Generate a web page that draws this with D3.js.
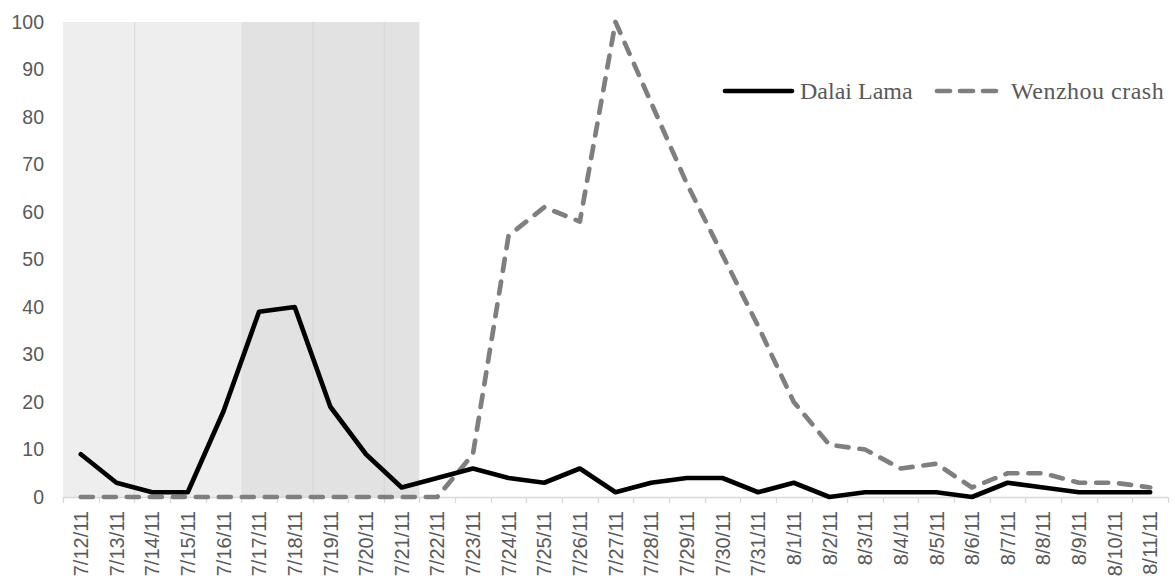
<!DOCTYPE html>
<html>
<head>
<meta charset="utf-8">
<script src="https://cdn.jsdelivr.net/npm/d3@7"></script>
<style>
  html, body { margin: 0; padding: 0; background: #fff; }
  svg { display: block; }
</style>
</head>
<body>
<svg id="chart" width="1175" height="585"></svg>
<script>
const categories = ["7/12/11","7/13/11","7/14/11","7/15/11","7/16/11","7/17/11","7/18/11","7/19/11","7/20/11","7/21/11","7/22/11","7/23/11","7/24/11","7/25/11","7/26/11","7/27/11","7/28/11","7/29/11","7/30/11","7/31/11","8/1/11","8/2/11","8/3/11","8/4/11","8/5/11","8/6/11","8/7/11","8/8/11","8/9/11","8/10/11","8/11/11"];
const dalaiLama = [9,3,1,1,18,39,40,19,9,2,4,6,4,3,6,1,3,4,4,1,3,0,1,1,1,0,3,2,1,1,1];
const wenzhouCrash = [0,0,0,0,0,0,0,0,0,0,0,9,55,61,58,100,83,66,51,36,20,11,10,6,7,2,5,5,3,3,2];
const yTicks = [0,10,20,30,40,50,60,70,80,90,100];
const seriesNames = ["Dalai Lama","Wenzhou crash"];
// shaded periods (category ranges)
const lightPeriod = ["7/12/11","7/16/11"];
const darkPeriod = ["7/17/11","7/21/11"];
const dividerCats = ["7/14/11","7/19/11","7/21/11"];

(function () {
const svg = d3.select("#chart");
const mLeft = 63, mRight = 1168, mTop = 22, mBottom = 497;

const x = d3.scaleBand().domain(categories).range([mLeft, mRight]).paddingInner(0).paddingOuter(0);
const y = d3.scaleLinear().domain([0, 100]).range([mBottom, mTop]);
const cx = d => x(d) + x.bandwidth() / 2;

// shaded regions
svg.append("rect")
  .attr("x", x(lightPeriod[0])).attr("y", y(100))
  .attr("width", x(lightPeriod[1]) + x.bandwidth() - x(lightPeriod[0]))
  .attr("height", y(0) - y(100))
  .attr("fill", "#eeeeee");
svg.append("rect")
  .attr("x", x(darkPeriod[0])).attr("y", y(100))
  .attr("width", x(darkPeriod[1]) + x.bandwidth() - x(darkPeriod[0]))
  .attr("height", y(0) - y(100))
  .attr("fill", "#e2e2e2");
svg.selectAll("line.divider").data(dividerCats).enter().append("line")
  .attr("class", "divider")
  .attr("x1", d => x(d) + 0.5).attr("x2", d => x(d) + 0.5)
  .attr("y1", y(100)).attr("y2", y(0))
  .attr("stroke", "#d6d6d6").attr("stroke-width", 1);

// x axis line and boundary ticks
svg.append("line")
  .attr("x1", mLeft).attr("x2", mRight)
  .attr("y1", y(0) + 0.5).attr("y2", y(0) + 0.5)
  .attr("stroke", "#d9d9d9").attr("stroke-width", 1.3);
const boundaries = categories.map(c => x(c)).concat([mRight]);
svg.selectAll("line.xtick").data(boundaries).enter().append("line")
  .attr("class", "xtick")
  .attr("x1", d => Math.round(d) + 0.5).attr("x2", d => Math.round(d) + 0.5)
  .attr("y1", y(0)).attr("y2", y(0) + 6)
  .attr("stroke", "#d9d9d9").attr("stroke-width", 1.3);

// x labels
const xAxis = svg.append("g")
  .attr("transform", `translate(0,${y(0)})`)
  .call(d3.axisBottom(x).tickSize(0));
xAxis.select(".domain").remove();
xAxis.selectAll("text")
  .attr("font-family", "'Liberation Sans', Arial, sans-serif")
  .attr("font-size", "20px")
  .attr("fill", "#595959")
  .attr("text-anchor", "end")
  .attr("transform", "rotate(-90)")
  .attr("x", -14)
  .attr("y", 0)
  .attr("dy", "0.36em");

// y labels
const yAxis = svg.append("g")
  .attr("transform", `translate(${mLeft},0)`)
  .call(d3.axisLeft(y).tickValues(yTicks).tickSize(0).tickPadding(19));
yAxis.select(".domain").remove();
yAxis.selectAll("text")
  .attr("font-family", "'Liberation Sans', Arial, sans-serif")
  .attr("font-size", "19.5px")
  .attr("fill", "#595959");

// lines
const line = d3.line().x((d, i) => cx(categories[i])).y(d => y(d));
svg.append("path")
  .datum(wenzhouCrash)
  .attr("d", line)
  .attr("fill", "none")
  .attr("stroke", "#7f7f7f")
  .attr("stroke-width", 4.7)
  .attr("stroke-dasharray", "12,11")
  .attr("stroke-linecap", "round")
  .attr("stroke-linejoin", "round");
svg.append("path")
  .datum(dalaiLama)
  .attr("d", line)
  .attr("fill", "none")
  .attr("stroke", "#000000")
  .attr("stroke-width", 4.7)
  .attr("stroke-linecap", "round")
  .attr("stroke-linejoin", "round");

// legend
const legend = svg.append("g");
legend.append("line")
  .attr("x1", 725).attr("x2", 792).attr("y1", 91).attr("y2", 91)
  .attr("stroke", "#000").attr("stroke-width", 4.7).attr("stroke-linecap", "round");
legend.append("text")
  .attr("x", 800).attr("y", 99)
  .attr("font-family", "'Liberation Serif', 'Times New Roman', serif")
  .attr("font-size", "24px")
  .attr("fill", "#595959")
  .text(seriesNames[0]);
legend.append("line")
  .attr("x1", 937).attr("x2", 999).attr("y1", 91).attr("y2", 91)
  .attr("stroke", "#7f7f7f").attr("stroke-width", 4.7).attr("stroke-linecap", "round")
  .attr("stroke-dasharray", "13,10");
legend.append("text")
  .attr("x", 1011).attr("y", 99)
  .attr("font-family", "'Liberation Serif', 'Times New Roman', serif")
  .attr("font-size", "24px")
  .attr("letter-spacing", "0.5px")
  .attr("fill", "#595959")
  .text(seriesNames[1]);
})();
</script>
</body>
</html>
